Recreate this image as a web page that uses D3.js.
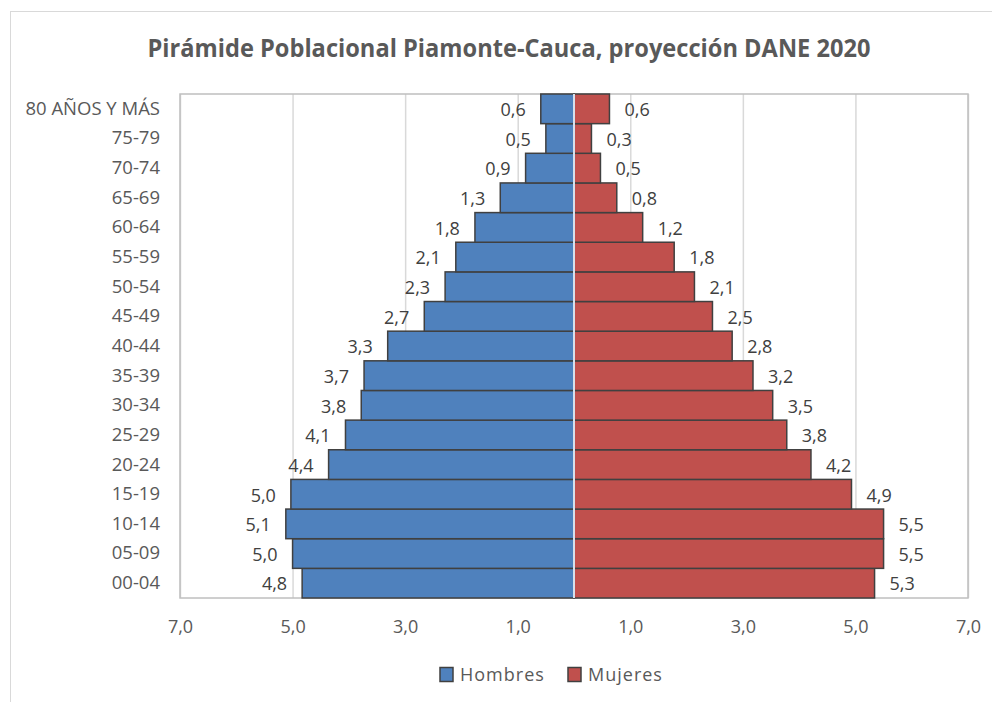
<!DOCTYPE html>
<html>
<head>
<meta charset="utf-8">
<script src="https://cdn.jsdelivr.net/npm/d3@7"></script>
<style>
  body { margin: 0; background: #fff; }
  svg { display: block; font-family: "Open Sans", sans-serif; }
</style>
</head>
<body>
<div id="chart"></div>
<script>
var categories = ["00-04", "05-09", "10-14", "15-19", "20-24", "25-29", "30-34", "35-39",
    "40-44", "45-49", "50-54", "55-59", "60-64", "65-69", "70-74", "75-79", "80 AÑOS Y MÁS"];
var hombres = [4.83, 5.00, 5.12, 5.03, 4.36, 4.06, 3.78, 3.73, 3.31, 2.66, 2.29, 2.10, 1.76, 1.31, 0.86, 0.50, 0.59];
var mujeres = [5.34, 5.50, 5.50, 4.93, 4.21, 3.78, 3.53, 3.18, 2.81, 2.46, 2.14, 1.78, 1.22, 0.76, 0.47, 0.31, 0.63];
var xTicks = [-7, -5, -3, -1, 1, 3, 5, 7];
var seriesNames = ["Hombres", "Mujeres"];
var seriesColors = ["#4f81bd", "#c0504d"];

var width = 992, height = 702;
var plotLeft = 180, plotRight = 968, plotTop = 94, plotBottom = 598;

var fmt = function(v) { return d3.format(".1f")(Math.abs(v)).replace(".", ","); };

var svg = d3.select("#chart").append("svg")
    .attr("width", width)
    .attr("height", height);

// chart area border
svg.append("rect")
    .attr("x", 10.5).attr("y", 11.5)
    .attr("width", 1000).attr("height", 720)
    .attr("fill", "#fff")
    .attr("stroke", "#d9d9d9");

var title = svg.append("text")
    .attr("x", 509).attr("y", 57)
    .attr("text-anchor", "middle")
    .attr("font-size", 24.5)
    .attr("font-weight", "bold")
    .attr("fill", "#595959")
    .text("Pirámide Poblacional Piamonte-Cauca, proyección DANE 2020");
if (title.node().getComputedTextLength() > 723) {
    title.attr("textLength", 723).attr("lengthAdjust", "spacingAndGlyphs");
}

var xScale = d3.scaleLinear().domain([-7, 7]).range([plotLeft, plotRight]);
var yScale = d3.scaleBand()
    .domain(categories.slice().reverse())
    .range([plotTop, plotBottom])
    .padding(0);

// grid lines
svg.append("g")
   .attr("transform", `translate(0, ${plotBottom})`)
   .call(d3.axisBottom(xScale).tickValues(xTicks).tickSize(-(plotBottom - plotTop)).tickFormat(""))
   .call(g => g.select(".domain").remove())
   .call(g => g.selectAll("line").attr("stroke", "#d9d9d9").attr("stroke-width", 1.5));

// plot area border
svg.append("rect")
    .attr("x", plotLeft).attr("y", plotTop)
    .attr("width", plotRight - plotLeft).attr("height", plotBottom - plotTop)
    .attr("fill", "none")
    .attr("stroke", "#bfbfbf")
    .attr("stroke-width", 1.5);

var rows = categories.map((c, i) => ({ cat: c, h: hombres[i], m: mujeres[i] }));

svg.append("g").selectAll("rect")
   .data(rows)
   .enter().append("rect")
   .attr("x", d => xScale(-d.h))
   .attr("y", d => yScale(d.cat))
   .attr("width", d => xScale(0) - xScale(-d.h))
   .attr("height", yScale.bandwidth())
   .attr("fill", seriesColors[0])
   .attr("stroke", "#404040")
   .attr("stroke-width", 1.5);

svg.append("g").selectAll("rect")
   .data(rows)
   .enter().append("rect")
   .attr("x", xScale(0))
   .attr("y", d => yScale(d.cat))
   .attr("width", d => xScale(d.m) - xScale(0))
   .attr("height", yScale.bandwidth())
   .attr("fill", seriesColors[1])
   .attr("stroke", "#404040")
   .attr("stroke-width", 1.5);

// vertical axis line at zero
svg.append("line")
    .attr("x1", xScale(0)).attr("x2", xScale(0))
    .attr("y1", plotTop).attr("y2", plotBottom)
    .attr("stroke", "#d6e0ec")
    .attr("stroke-width", 2);

// data labels
var labels = svg.append("g")
    .attr("font-size", 18)
    .attr("fill", "#404040");

labels.selectAll(".lh")
   .data(rows)
   .enter().append("text")
   .attr("x", d => xScale(-d.h) - 15)
   .attr("y", d => yScale(d.cat) + yScale.bandwidth() / 2 + 1)
   .attr("dy", "0.35em")
   .attr("text-anchor", "end")
   .text(d => fmt(d.h));

labels.selectAll(".lm")
   .data(rows)
   .enter().append("text")
   .attr("x", d => xScale(d.m) + 15)
   .attr("y", d => yScale(d.cat) + yScale.bandwidth() / 2 + 1)
   .attr("dy", "0.35em")
   .attr("text-anchor", "start")
   .text(d => fmt(d.m));

// x axis
svg.append("g")
   .attr("transform", `translate(0, ${plotBottom})`)
   .call(d3.axisBottom(xScale).tickValues(xTicks).tickSize(0).tickPadding(22).tickFormat(fmt))
   .call(g => g.select(".domain").remove())
   .call(g => g.selectAll("text").attr("font-size", 18).attr("fill", "#595959").attr("font-family", "Open Sans"));

// category axis
svg.append("g")
   .attr("transform", `translate(${plotLeft}, 0)`)
   .call(d3.axisLeft(yScale).tickSize(0).tickPadding(20))
   .call(g => g.select(".domain").remove())
   .call(g => g.selectAll("text").attr("font-size", 18.5).attr("fill", "#595959").attr("font-family", "Open Sans"));

// legend
var legend = svg.append("g").attr("font-size", 18).attr("fill", "#595959").attr("letter-spacing", 1);
var legendX = [440, 568];
seriesNames.forEach((name, i) => {
    legend.append("rect")
        .attr("x", legendX[i]).attr("y", 667.5)
        .attr("width", 13).attr("height", 14)
        .attr("fill", seriesColors[i])
        .attr("stroke", "#404040")
        .attr("stroke-width", 1.5);
    legend.append("text")
        .attr("x", legendX[i] + 20).attr("y", 675)
        .attr("dy", "0.35em")
        .text(name);
});
</script>
</body>
</html>
